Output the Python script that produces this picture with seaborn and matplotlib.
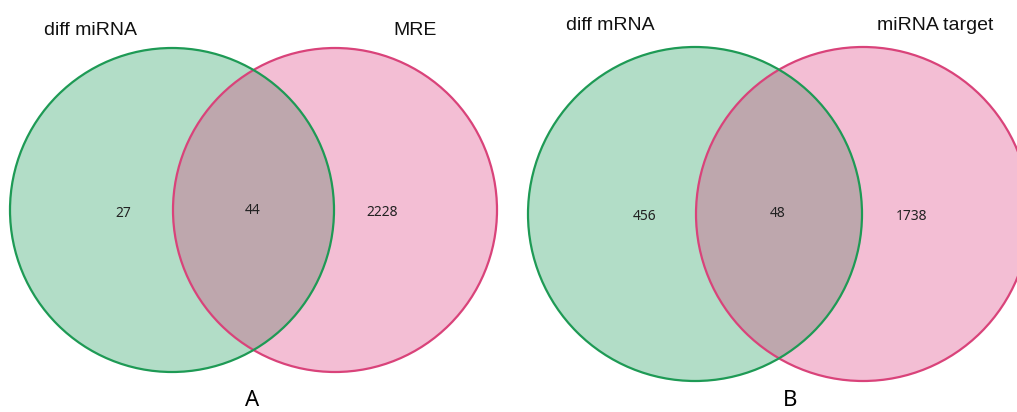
import matplotlib
matplotlib.use("Agg")
import matplotlib.pyplot as plt
import seaborn as sns
from matplotlib.patches import Circle

# Veri
set_labels = [["diff miRNA", "MRE"], ["diff mRNA", "miRNA target"]]
counts = [[27, 44, 2228], [456, 48, 1738]]  # sadece sol, kesişim, sadece sağ
panel_labels = ["A", "B"]

# Yerleşim (piksel)
centers = [[(172, 210), (335, 210)], [(695, 214), (863, 214)]]
radii = [162, 167]
count_pos = [[(123, 213), (253, 210), (382, 212)], [(645, 216), (778, 213), (912, 216)]]
label_pos = [[(90, 30), (415, 30)], [(610, 25), (935, 25)]]
panel_pos = [(252, 401), (790, 401)]

fill_colors = ["#009148", "#da2a73"]
edge_colors = ["#1e9a55", "#d9437a"]

sns.set_style("white")

fig = plt.figure(figsize=(10.17, 4.12), dpi=100)
ax = fig.add_axes([0, 0, 1, 1])
ax.set_xlim(0, 1017)
ax.set_ylim(412, 0)
ax.set_aspect("equal")
ax.axis("off")

for p in range(2):
    r = radii[p]
    for k in range(2):
        ax.add_patch(Circle(centers[p][k], r, facecolor=fill_colors[k], alpha=0.3,
                            edgecolor="none", zorder=1))
    for k in [1, 0]:
        ax.add_patch(Circle(centers[p][k], r, facecolor="none",
                            edgecolor=edge_colors[k], linewidth=1.6, zorder=2))
    for k in range(3):
        ax.text(count_pos[p][k][0], count_pos[p][k][1], str(counts[p][k]),
                ha="center", va="center", fontsize=10, family="Noto Sans",
                color="#222222", zorder=3)
    for k in range(2):
        ax.text(label_pos[p][k][0], label_pos[p][k][1], set_labels[p][k],
                ha="center", va="center", fontsize=14, family="Liberation Sans",
                color="#111111", zorder=3)
    ax.text(panel_pos[p][0], panel_pos[p][1], panel_labels[p], ha="center",
            va="center", fontsize=16, family="Noto Sans", color="black", zorder=3)

fig.savefig("out.png", dpi=100)
